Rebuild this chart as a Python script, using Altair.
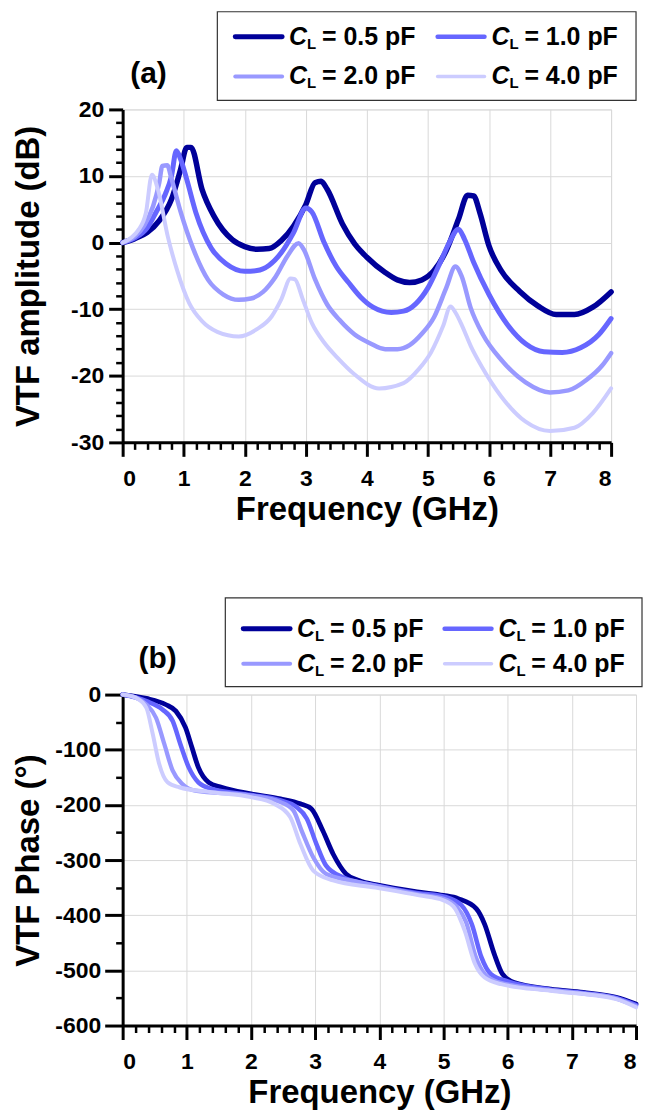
import altair as alt
import pandas as pd

# ---------------- data ----------------
series_names = ["C_L = 0.5 pF", "C_L = 1.0 pF", "C_L = 2.0 pF", "C_L = 4.0 pF"]
value_texts = ["= 0.5 pF", "= 1.0 pF", "= 2.0 pF", "= 4.0 pF"]
colors = ["#000099", "#6666FF", "#9999FF", "#CCCCFF"]

# (a) VTF amplitude (dB)
fa_05 = [0, 0.2, 0.4, 0.6, 0.8, 0.95, 1.05, 1.12, 1.3, 1.5, 1.8, 2.0, 2.2, 2.4, 2.6, 2.8, 3.0, 3.15, 3.25,
         3.35, 3.6, 3.8, 4.0, 4.3, 4.5, 4.7, 4.9, 5.1, 5.3, 5.5, 5.65, 5.75, 5.85, 6.0, 6.2, 6.5, 6.8, 7.1,
         7.4, 7.7, 8.0]
db_05 = [0, 0.6, 1.5, 3.3, 6.5, 11.0, 14.3, 14.3, 8.0, 3.9, 0.4, -0.6, -1.0, -0.9, 0.3, 2.5, 5.7, 9.0, 9.2,
         8.0, 2.8, -0.2, -2.2, -4.5, -5.6, -6.0, -5.6, -4.2, -1.2, 3.5, 7.1, 7.0, 4.5, -0.5, -4.2, -7.3, -9.5,
         -10.8, -10.8, -9.7, -7.4]

fa_10 = [0, 0.2, 0.4, 0.55, 0.7, 0.8, 0.88, 0.95, 1.05, 1.2, 1.45, 1.7, 2.0, 2.2, 2.4, 2.6, 2.8, 3.0, 3.1,
         3.3, 3.5, 3.7, 3.9, 4.1, 4.4, 4.6, 4.8, 5.0, 5.2, 5.35, 5.5, 5.6, 5.75, 6.0, 6.3, 6.6, 6.9, 7.2,
         7.5, 7.8, 8.0]
db_10 = [0, 0.7, 2.2, 4.6, 7.3, 10.0, 13.8, 12.5, 9.5, 4.5, -0.8, -3.2, -4.3, -4.2, -3.4, -1.5, 1.5, 5.2,
         4.6, 0.0, -3.6, -6.0, -8.2, -9.7, -10.5, -10.3, -9.2, -6.8, -3.0, 0.0, 2.0, 0.5, -3.0, -7.8, -12.3,
         -15.2, -16.4, -16.5, -15.8, -13.8, -11.4]

fa_20 = [0, 0.2, 0.35, 0.5, 0.6, 0.65, 0.73, 0.8, 0.95, 1.15, 1.4, 1.65, 1.9, 2.1, 2.3, 2.5, 2.7, 2.88,
         2.97, 3.15, 3.35, 3.55, 3.8, 4.05, 4.3, 4.5, 4.7, 4.9, 5.1, 5.3, 5.45, 5.55, 5.7, 5.9, 6.2, 6.6,
         7.0, 7.3, 7.6, 7.85, 8.0]
db_20 = [0, 0.9, 2.5, 5.5, 9.0, 11.5, 11.6, 9.6, 4.6, -0.8, -5.6, -7.8, -8.6, -8.4, -7.4, -5.2, -2.0,
         -0.1, -1.1, -5.5, -9.3, -11.6, -13.8, -15.1, -16.0, -16.0, -15.4, -13.7, -11.2, -6.8, -3.6, -5.0,
         -9.8, -13.8, -17.6, -21.0, -22.5, -22.2, -20.6, -18.5, -16.6]

fa_40 = [0, 0.15, 0.25, 0.38, 0.48, 0.58, 0.74, 0.89, 1.09, 1.3, 1.55, 1.9, 2.2, 2.44, 2.6, 2.75, 2.82,
         2.95, 3.1, 3.3, 3.52, 3.8, 4.2, 4.6, 4.85, 5.05, 5.25, 5.37, 5.45, 5.56, 5.7, 5.88, 6.2, 6.6, 7.0,
         7.4, 7.7, 8.0]
db_40 = [0, 0.8, 1.8, 4.4, 10.2, 7.9, 0.9, -4.1, -9.1, -11.8, -13.4, -14.1, -13.0, -11.1, -8.5, -5.4,
         -5.5, -8.5, -12.1, -15.0, -17.3, -19.8, -21.9, -21.1, -19.0, -16.5, -12.5, -9.6, -10.5, -12.5,
         -15.5, -18.6, -23.1, -26.9, -28.3, -27.8, -25.6, -21.9]

# (b) VTF phase (deg)
fb_05 = [0, 0.37, 0.67, 0.83, 0.98, 1.08, 1.18, 1.34, 1.54, 2.0, 2.46, 2.77, 2.94, 3.12, 3.28, 3.48, 3.68,
         4.0, 4.62, 5.0, 5.23, 5.51, 5.64, 5.79, 5.92, 6.1, 6.67, 7.18, 7.69, 8.0]
ph_05 = [0, -7, -18, -30, -60, -96, -132, -159, -168, -180, -189, -198, -207, -247, -289, -325, -337,
         -346, -358, -364, -370, -388, -416, -470, -507, -522, -534, -540, -549, -561]

fb_10 = [0, 0.37, 0.62, 0.78, 0.9, 1.03, 1.18, 1.39, 2.0, 2.46, 2.71, 2.87, 3.02, 3.17, 3.43, 3.94, 4.6,
         5.03, 5.28, 5.44, 5.59, 5.74, 6.0, 6.67, 7.18, 7.69, 8.0]
ph_10 = [0, -12, -27, -48, -90, -132, -159, -171, -182, -192, -204, -225, -271, -310, -331, -346, -360,
         -367, -382, -416, -476, -507, -520, -535, -541, -550, -563]

fb_20 = [0, 0.2, 0.37, 0.52, 0.65, 0.78, 0.93, 1.13, 2.0, 2.46, 2.66, 2.79, 2.97, 3.17, 3.68, 4.6, 5.0,
         5.2, 5.35, 5.5, 5.65, 5.85, 6.67, 7.18, 7.69, 8.0]
ph_20 = [0, -5, -18, -42, -90, -138, -162, -174, -183, -195, -210, -247, -295, -325, -340, -362, -370,
         -384, -412, -475, -508, -521, -536, -542, -551, -565]

fb_40 = [0, 0.21, 0.37, 0.47, 0.57, 0.7, 0.88, 1.39, 2.0, 2.36, 2.61, 2.77, 2.97, 3.28, 3.94, 4.62, 5.0,
         5.18, 5.33, 5.49, 5.64, 5.9, 6.67, 7.69, 8.0]
ph_40 = [0, -6, -24, -72, -126, -159, -168, -177, -186, -198, -222, -271, -319, -337, -350, -364, -373,
         -388, -428, -488, -513, -525, -537, -552, -567]

x_major = [0, 1, 2, 3, 4, 5, 6, 7, 8]
amp_major = [-30, -20, -10, 0, 10, 20]
phase_major = [-600, -500, -400, -300, -200, -100, 0]

FONT = "Liberation Sans"


def long_frame(fs, vs):
    rows = []
    for name, f, v in zip(series_names, fs, vs):
        for a, b in zip(f, v):
            rows.append({"series": name, "f": a, "v": b})
    return pd.DataFrame(rows)


amp_df = long_frame([fa_05, fa_10, fa_20, fa_40], [db_05, db_10, db_20, db_40])
phase_df = long_frame([fb_05, fb_10, fb_20, fb_40], [ph_05, ph_10, ph_20, ph_40])

x_minor = [round(i * 0.2, 1) for i in range(41) if i % 5 != 0]
amp_minor = [v for v in range(-30, 21, 2) if v % 10 != 0]
phase_minor = [v for v in range(-600, 1, 50) if v % 100 != 0]

color_scale = alt.Scale(domain=series_names, range=colors)


def legend_layers(W, H, box, sym_x0, dcol, y0, drow, sym_len, tag, tag_xy):
    ldf = pd.DataFrame({"series": series_names, "value": value_texts,
                        "col": [0, 1, 0, 1], "row": [0, 0, 1, 1]})
    lo_x = -sym_x0 / dcol
    lo_y = -y0 / drow
    xs = alt.Scale(domain=[lo_x, lo_x + W / dcol], nice=False, zero=False)
    ys = alt.Scale(domain=[lo_y, lo_y + H / drow], nice=False, zero=False, reverse=True)
    base = alt.Chart(ldf).encode(
        x=alt.X("col:Q", scale=xs, axis=None),
        y=alt.Y("row:Q", scale=ys, axis=None),
    )
    one = pd.DataFrame({"k": [1]})
    frame = alt.Chart(one).mark_rect(fill="white", stroke="#333333", strokeWidth=1.2).encode(
        x=alt.value(box[0]), x2=alt.value(box[1]), y=alt.value(box[2]), y2=alt.value(box[3]))
    tag_mark = alt.Chart(one).mark_text(text=tag, font=FONT, fontSize=30, fontWeight="bold",
                                         align="center", baseline="middle", color="black").encode(
        x=alt.value(tag_xy[0]), y=alt.value(tag_xy[1]))
    rules = base.transform_calculate(c2=f"datum.col + {sym_len / dcol}").mark_rule(strokeCap="round").encode(
        x2="c2:Q",
        color=alt.Color("series:N", scale=color_scale, legend=None),
        strokeWidth=alt.StrokeWidth("series:N", scale=alt.Scale(domain=series_names,
                                                                range=[5, 3.5, 3.5, 3.5]), legend=None),
    )
    tx = dict(font=FONT, fontWeight="bold", align="left", baseline="middle", color="black")
    t_c = base.mark_text(text="C", fontSize=25, fontStyle="italic", dx=sym_len + 7, **tx)
    t_l = base.mark_text(text="L", fontSize=15, dx=sym_len + 25, dy=7, **tx)
    t_v = base.mark_text(fontSize=25, dx=sym_len + 40, **tx).encode(text="value:N")
    return [frame, tag_mark, rules, t_c, t_l, t_v]


def panel(df, ydom, ymaj, ymin, ytitle, W, H, widths, ytick, ylabel_pad, ytitle_pad, leg):
    xs = alt.Scale(domain=[0, 8], nice=False, zero=False)
    ys = alt.Scale(domain=ydom, nice=False, zero=False)
    common = dict(labelFont=FONT, labelFontSize=23, labelFontWeight="bold", labelColor="black",
                  titleFont=FONT, titleFontSize=33, titleFontWeight="bold", titleColor="black",
                  domainColor="black", domainWidth=3, tickColor="black", tickWidth=3,
                  gridColor="#d9d9d9", gridWidth=1)
    xaxis = alt.Axis(values=x_major, grid=True, orient="bottom", tickSize=14, labelPadding=11,
                     title="Frequency (GHz)", titlePadding=3, labelExpr="'' + datum.value", **common)
    yaxis = alt.Axis(values=ymaj, grid=True, orient="left", tickSize=ytick, labelPadding=ylabel_pad,
                     title=ytitle, titlePadding=ytitle_pad, labelExpr="'' + datum.value", **common)
    minor_common = dict(labels=False, domain=False, grid=False, tickColor="black", tickWidth=2.5,
                        tickSize=7, title=None)
    minor = alt.Chart(df).mark_point(opacity=0).encode(
        x=alt.X("f:Q", scale=xs, axis=alt.Axis(values=x_minor, orient="bottom", **minor_common)),
        y=alt.Y("v:Q", scale=ys, axis=alt.Axis(values=ymin, orient="left", **minor_common)),
    )
    lines = alt.Chart(df).mark_line(interpolate="monotone", strokeCap="round", strokeJoin="round").encode(
        x=alt.X("f:Q", scale=xs, axis=xaxis),
        y=alt.Y("v:Q", scale=ys, axis=yaxis),
        color=alt.Color("series:N", scale=color_scale, legend=None),
        strokeWidth=alt.StrokeWidth("series:N", scale=alt.Scale(domain=series_names, range=widths),
                                    legend=None),
        order=alt.Order("f:Q"),
    )
    layers = [minor, lines] + legend_layers(*leg)
    return alt.layer(*layers).resolve_scale(
        x="independent", y="independent", strokeWidth="independent"
    ).resolve_axis(x="independent", y="independent").properties(width=W, height=H)


# view origin of both panels: x=122 on the page; (a) top at y=106, (b) top at y=694
plot_a = panel(amp_df, [-30, 20], amp_major, amp_minor, "VTF amplitude (dB)", 490, 334,
               [5.5, 4, 4, 4], 14, 5, 25,
               (490, 334, (95, 515, -98, -9), 113, 203, -73, 40, 47, "(a)", (26, -36)))
plot_b = panel(phase_df, [-600, 0], phase_major, phase_minor, "VTF Phase (°)", 515, 332,
               [4.8, 4, 4, 4], 18, 4, 9,
               (515, 332, (103, 521, -97, -8), 121, 202, -66, 35, 47, "(b)", (35, -36)))

chart = alt.vconcat(plot_a, plot_b, spacing=69,
                    padding={"left": 4, "top": 0, "right": 0, "bottom": 0}).configure_view(
    stroke="black", strokeWidth=3).configure(font=FONT)

chart.save("out.html", embed_options={"renderer": "svg", "actions": False})
